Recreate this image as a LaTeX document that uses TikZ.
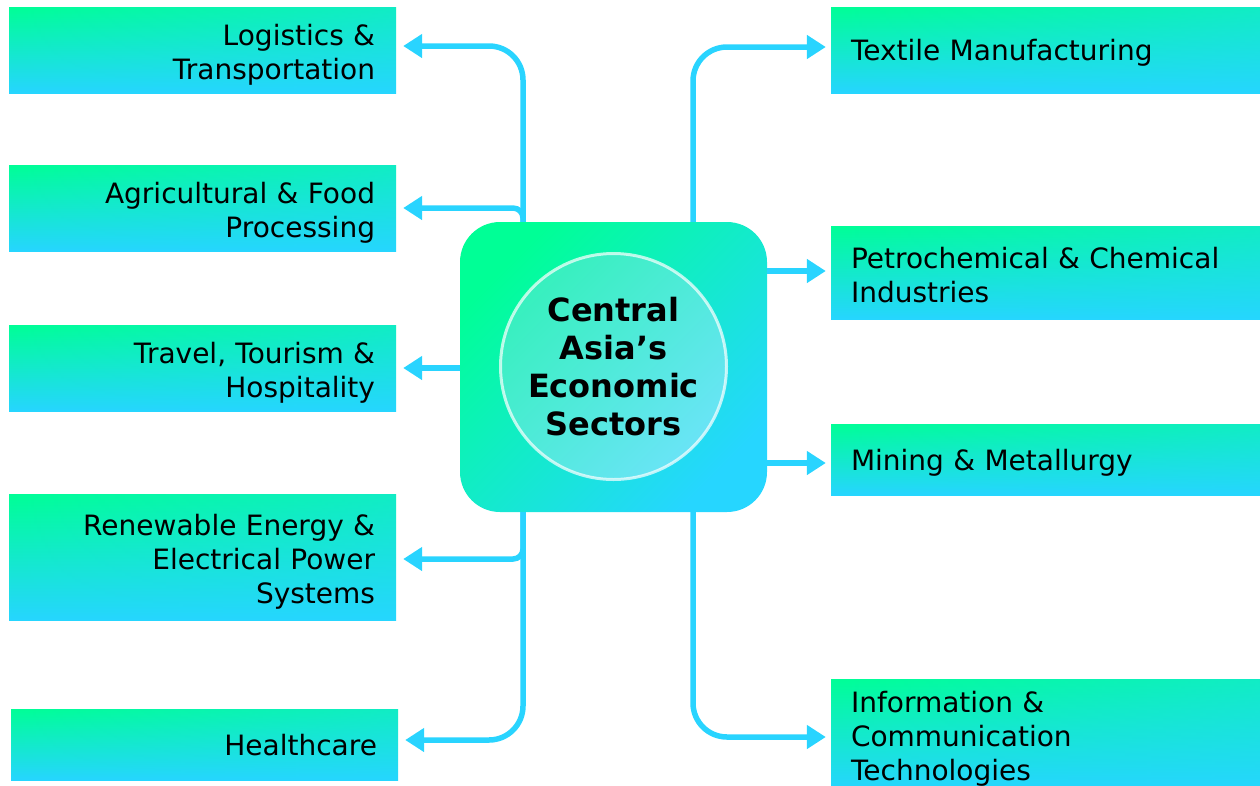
\documentclass[tikz,border=0pt]{standalone}
\usepackage{fontspec}
\setmainfont{DejaVu Sans}
\usetikzlibrary{arrows.meta,fadings}
\definecolor{gstart}{RGB}{0,255,150}
\definecolor{gend}{RGB}{38,214,255}
\definecolor{conncol}{RGB}{41,212,255}
\definecolor{circA}{RGB}{55,240,190}
\definecolor{circB}{RGB}{105,228,246}
\tikzset{
  grad/.style={top color=gstart, bottom color=gend,
    path picture={\fill[gend, fill opacity=0.45, path fading=west]
      (path picture bounding box.south west) rectangle (path picture bounding box.north east);}},
  hubgrad/.style={shade, top color=gstart, bottom color=gend, shading angle=45},
  boxfont/.style={font=\fontsize{28}{34}\selectfont, text depth=-2pt},
  twolines/.style={text depth=30pt},
  threelines/.style={text depth=64pt},
  leftbox/.style={grad, rectangle, draw=none, inner sep=0pt, minimum width=387pt,
    text width=345pt, align=right, boxfont},
  rightbox/.style={grad, rectangle, draw=none, inner sep=0pt, minimum width=429pt,
    text width=389pt, align=left, boxfont},
  conn/.style={draw=conncol, line width=5.5pt, -{Triangle[length=19pt,width=23pt]}},
  connL/.style={conn, shorten >=7pt},
  connR/.style={conn, shorten >=5pt},
}
\begin{document}
\begin{tikzpicture}[x=1pt,y=-1pt]
\useasboundingbox (0,0) rectangle (1260,785);
\clip (0,0) rectangle (1260,785);
% left boxes
\node[leftbox, twolines, minimum height=86pt] (logi) at (202.5,50) {Logistics \&\\Transportation};
\node[leftbox, twolines, minimum height=86pt] (agri) at (202.5,208) {Agricultural \& Food\\Processing};
\node[leftbox, twolines, minimum height=86pt] (travel) at (202.5,368) {Travel, Tourism \&\\Hospitality};
\node[leftbox, threelines, minimum height=126pt] (renew) at (202.5,557) {Renewable Energy \&\\Electrical Power\\Systems};
\node[leftbox, text depth=0pt, minimum height=71pt] (health) at (204.5,744.5) {Healthcare};
% right boxes
\node[rightbox, minimum height=86pt] (textile) at (1045.5,50) {Textile Manufacturing};
\node[rightbox, twolines, minimum height=93pt] (petro) at (1045.5,272.5) {Petrochemical \& Chemical\\Industries};
\node[rightbox, minimum height=71pt] (mining) at (1045.5,459.5) {Mining \& Metallurgy};
\node[rightbox, threelines, minimum height=110pt] (ict) at (1045.5,734) {Information \&\\Communication\\Technologies};
% hub
\node[hubgrad, rectangle, rounded corners=40pt, minimum width=307pt, minimum height=290pt, inner sep=0pt] (hub) at (613.5,367) {};
\node[circle, shade, top color=circA, bottom color=circB, shading angle=45,
      draw=white, draw opacity=0.7, line width=3pt, minimum size=226pt, inner sep=0pt,
      align=center, font=\bfseries\fontsize{32}{38}\selectfont] (core) at (613.5,366.5)
      {Central\\Asia’s\\Economic\\Sectors};
\coordinate (LT) at (523,0);
\coordinate (RT) at (693,0);
% connectors left
\draw[connL, rounded corners=34pt] (hub.north -| LT) |- ([yshift=4pt]logi.east);
\draw[connL, rounded corners=10pt] (hub.north -| LT) |- (agri.east);
\draw[connL] (travel.east -| hub.west) -- (travel.east);
\draw[connL, rounded corners=10pt] (hub.south -| LT) |- ([yshift=-2pt]renew.east);
\draw[connL, rounded corners=34pt] (hub.south -| LT) |- ([yshift=4.5pt]health.east);
% connectors right
\draw[connR, rounded corners=34pt] (hub.north -| RT) |- ([yshift=3pt]textile.west);
\draw[connR] ([yshift=1.5pt]petro.west -| hub.east) -- ([yshift=1.5pt]petro.west);
\draw[connR] ([yshift=-3.5pt]mining.west -| hub.east) -- ([yshift=-3.5pt]mining.west);
\draw[connR, rounded corners=34pt] (hub.south -| RT) |- ([yshift=-3pt]ict.west);
\end{tikzpicture}
\end{document}
